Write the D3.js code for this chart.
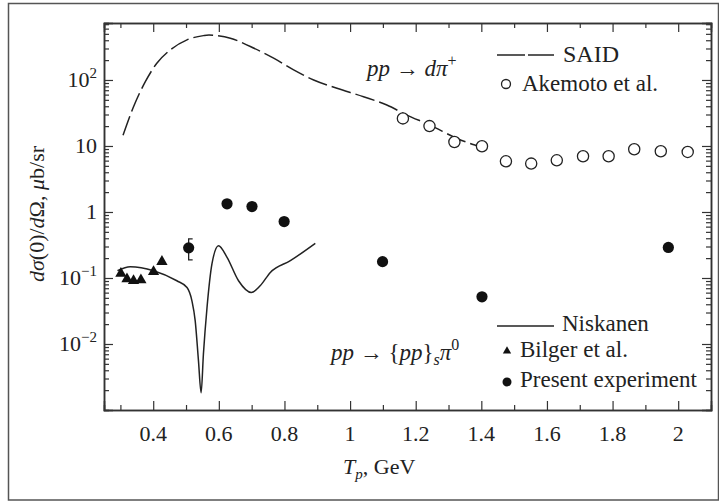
<!DOCTYPE html>
<html>
<head>
<meta charset="utf-8">
<script src="https://cdn.jsdelivr.net/npm/d3@7/dist/d3.min.js"></script>
<style>
  body { margin: 0; background: #fff; }
  svg text { font-family: "Liberation Serif", "Times New Roman", "DejaVu Serif", serif; fill: #222; }
</style>
</head>
<body>
<svg id="chart" width="719" height="504"></svg>
<script>
//x axis ticks
var xMajor = [0.4, 0.6, 0.8, 1.0, 1.2, 1.4, 1.6, 1.8, 2.0];
var xLabels = ["0.4", "0.6", "0.8", "1", "1.2", "1.4", "1.6", "1.8", "2"];
var xMinor = [0.3, 0.5, 0.7, 0.9, 1.1, 1.3, 1.5, 1.7, 1.9];
//y axis ticks (exponents of the labelled decades)
var yMajor = [0.01, 0.1, 1, 10, 100];
var yExp = ["\u22122", "\u22121", "", "", "2"];
var yBase = ["10", "10", "1", "10", "10"];

//SAID curve (pp -> d pi+)
var saidT = [0.308, 0.34, 0.376, 0.411, 0.452, 0.503, 0.553, 0.57, 0.594, 0.635, 0.696, 0.767, 0.828, 0.889, 0.96, 1.041, 1.112, 1.173, 1.244, 1.326, 1.4];
var saidV = [14.6, 39.3, 94.2, 179.5, 286, 406, 470, 480, 470, 430, 321, 214, 142, 100, 74.8, 55.7, 41.7, 29.4, 20.7, 13.0, 9.6];
//Akemoto et al.
var akeT = [1.161, 1.242, 1.318, 1.402, 1.475, 1.552, 1.630, 1.710, 1.788, 1.866, 1.947, 2.029];
var akeV = [26.2, 20.0, 11.5, 9.9, 5.86, 5.41, 6.07, 6.98, 6.98, 8.93, 8.32, 8.12];
//Niskanen curve (pp -> {pp}s pi0)
var nisT = [0.291, 0.330, 0.401, 0.472, 0.503, 0.518, 0.528, 0.538, 0.546, 0.553, 0.564, 0.579, 0.599, 0.625, 0.660, 0.699, 0.726, 0.757, 0.818, 0.894];
var nisV = [0.129, 0.148, 0.129, 0.0908, 0.0718, 0.0451, 0.0224, 0.00551, 0.00182, 0.00705, 0.0357, 0.163, 0.309, 0.2055, 0.0908, 0.0603, 0.0762, 0.1214, 0.183, 0.335];
//Bilger et al.
var bilT = [0.3015, 0.320, 0.340, 0.3625, 0.401, 0.4265];
var bilV = [0.117, 0.0964, 0.0908, 0.093, 0.1245, 0.177];
//Present experiment
var preT = [0.508, 0.625, 0.701, 0.799, 1.099, 1.402, 1.970];
var preV = [0.286, 1.33, 1.21, 0.717, 0.177, 0.0519, 0.29];
//error bar on the 0.5 GeV point
var errT = [0.508];
var errLo = [0.1875];
var errHi = [0.391];

var svg = d3.select("#chart");
var pLeft = 104, pRight = 711, pTop = 23, pBottom = 410;

// -- outer frame
svg.append("rect")
  .attr("x", 8.5).attr("y", 3.5)
  .attr("width", 710).attr("height", 496.5)
  .attr("fill", "none").attr("stroke", "#555").attr("stroke-width", 1.5);

var x = d3.scaleLinear().domain([0.25, 2.1]).range([pLeft, pRight]);
var y = d3.scaleLog().domain([0.001, 730]).range([pBottom, pTop]);

// -- log minor ticks
var yMinor = [];
[0.001, 0.01, 0.1, 1, 10, 100].forEach(function(b) {
  for (var k = 2; k <= 9; k++) {
    if (b * k <= 730) yMinor.push(b * k);
  }
});

// -- axes, ticks pointing inward
function axes(axis, vals, size, tr) {
  var g = svg.append("g")
    .attr("transform", tr)
    .call(axis.tickValues(vals).tickSize(size).tickFormat(""));
  g.selectAll("text").remove();
  g.select(".domain").attr("stroke", "#333").attr("stroke-width", 1.5);
  g.selectAll(".tick line").attr("stroke", "#333").attr("stroke-width", 1.2);
}
axes(d3.axisBottom(x), xMajor, -9, "translate(0," + pBottom + ")");
axes(d3.axisBottom(x), xMinor, -5, "translate(0," + pBottom + ")");
axes(d3.axisTop(x), xMajor, -9, "translate(0," + pTop + ")");
axes(d3.axisTop(x), xMinor, -5, "translate(0," + pTop + ")");
axes(d3.axisLeft(y), yMajor, -9, "translate(" + pLeft + ",0)");
axes(d3.axisLeft(y), yMinor, -5, "translate(" + pLeft + ",0)");
axes(d3.axisRight(y), yMajor, -9, "translate(" + pRight + ",0)");
axes(d3.axisRight(y), yMinor, -5, "translate(" + pRight + ",0)");

// -- x tick labels
svg.selectAll(".xlab")
  .data(xMajor)
  .enter()
  .append("text")
  .attr("x", function(d) { return x(d); })
  .attr("y", 441)
  .attr("text-anchor", "middle")
  .attr("font-size", 22)
  .text(function(d, i) { return xLabels[i]; });

// -- y tick labels
yMajor.forEach(function(v, i) {
  var t = svg.append("text")
    .attr("x", 97)
    .attr("y", y(v) + 7)
    .attr("text-anchor", "end")
    .attr("font-size", 22);
  t.append("tspan").text(yBase[i]);
  if (yExp[i] !== "") {
    t.append("tspan").attr("font-size", 15).attr("dy", -9).text(yExp[i]);
  }
});

// -- axis titles
var xt = svg.append("text").attr("x", 343).attr("y", 474).attr("font-size", 22);
xt.append("tspan").attr("font-style", "italic").text("T");
xt.append("tspan").attr("font-style", "italic").attr("font-size", 15).attr("dy", 5).text("p");
xt.append("tspan").attr("dy", -5).text(", GeV");

var yt = svg.append("text")
  .attr("transform", "translate(44,214) rotate(-90)")
  .attr("text-anchor", "middle")
  .attr("font-size", 22);
yt.append("tspan").attr("font-style", "italic").text("d\u03c3");
yt.append("tspan").text("(0)/");
yt.append("tspan").attr("font-style", "italic").text("d");
yt.append("tspan").text("\u03a9, ");
yt.append("tspan").attr("font-style", "italic").text("\u03bc");
yt.append("tspan").text("b/sr");

// -- SAID dashed curve
var line = d3.line()
  .x(function(d) { return x(d[0]); })
  .y(function(d) { return y(d[1]); })
  .curve(d3.curveMonotoneX);
svg.append("path")
  .datum(d3.zip(saidT, saidV))
  .attr("d", line)
  .attr("fill", "none").attr("stroke", "#222").attr("stroke-width", 1.5)
  .attr("stroke-dasharray", "20,5");

// -- Niskanen solid curve
svg.append("path")
  .datum(d3.zip(nisT, nisV))
  .attr("d", line)
  .attr("fill", "none").attr("stroke", "#222").attr("stroke-width", 1.5);

// -- Akemoto open circles
svg.selectAll(".ake")
  .data(d3.zip(akeT, akeV))
  .enter()
  .append("circle")
  .attr("cx", function(d) { return x(d[0]); })
  .attr("cy", function(d) { return y(d[1]); })
  .attr("r", 5.6)
  .attr("fill", "#fff").attr("stroke", "#222").attr("stroke-width", 1.3);

// -- Bilger triangles
svg.selectAll(".bil")
  .data(d3.zip(bilT, bilV))
  .enter()
  .append("path")
  .attr("d", d3.symbol(d3.symbolTriangle, 55))
  .attr("transform", function(d) { return "translate(" + x(d[0]) + "," + y(d[1]) + ")"; })
  .attr("fill", "#111");

// -- error bar
errT.forEach(function(t, i) {
  var cx = x(t);
  svg.append("path")
    .attr("d", "M" + (cx + 4) + "," + y(errHi[i]) + "H" + cx + "V" + y(errLo[i]) + "H" + (cx + 4))
    .attr("fill", "none").attr("stroke", "#222").attr("stroke-width", 1.3);
});

// -- present experiment filled circles
svg.selectAll(".pre")
  .data(d3.zip(preT, preV))
  .enter()
  .append("circle")
  .attr("cx", function(d) { return x(d[0]); })
  .attr("cy", function(d) { return y(d[1]); })
  .attr("r", 5.6)
  .attr("fill", "#111");

// -- reaction labels
var r1 = svg.append("text").attr("x", 367).attr("y", 76).attr("font-size", 23);
r1.append("tspan").attr("font-style", "italic").text("pp");
r1.append("tspan").text(" \u2192 ");
r1.append("tspan").attr("font-style", "italic").text("d\u03c0");
r1.append("tspan").attr("font-size", 16).attr("dy", -10).text("+");

var r2 = svg.append("text").attr("x", 331).attr("y", 360).attr("font-size", 23);
r2.append("tspan").attr("font-style", "italic").text("pp");
r2.append("tspan").text(" \u2192 {");
r2.append("tspan").attr("font-style", "italic").text("pp");
r2.append("tspan").text("}");
r2.append("tspan").attr("font-style", "italic").attr("font-size", 16).attr("dy", 5).text("s");
r2.append("tspan").attr("font-style", "italic").attr("dy", -5).text("\u03c0");
r2.append("tspan").attr("font-size", 16).attr("dy", -10).text("0");

// -- legends
svg.append("line").attr("x1", 497).attr("x2", 525).attr("y1", 55).attr("y2", 55)
  .attr("stroke", "#222").attr("stroke-width", 1.5);
svg.append("line").attr("x1", 528).attr("x2", 554).attr("y1", 55).attr("y2", 55)
  .attr("stroke", "#222").attr("stroke-width", 1.5);
svg.append("text").attr("x", 563).attr("y", 62).attr("font-size", 24).text("SAID");
svg.append("circle").attr("cx", 506).attr("cy", 84).attr("r", 4.5)
  .attr("fill", "#fff").attr("stroke", "#222").attr("stroke-width", 1.3);
svg.append("text").attr("x", 522).attr("y", 91).attr("font-size", 23).text("Akemoto et al.");

svg.append("line").attr("x1", 497).attr("x2", 554).attr("y1", 326).attr("y2", 326)
  .attr("stroke", "#222").attr("stroke-width", 1.5);
svg.append("text").attr("x", 562).attr("y", 331).attr("font-size", 23).text("Niskanen");
svg.append("path").attr("d", d3.symbol(d3.symbolTriangle, 30))
  .attr("transform", "translate(507,351)").attr("fill", "#111");
svg.append("text").attr("x", 520).attr("y", 357).attr("font-size", 23).text("Bilger et al.");
svg.append("circle").attr("cx", 507).attr("cy", 382).attr("r", 4.5).attr("fill", "#111");
svg.append("text").attr("x", 520).attr("y", 387).attr("font-size", 23).text("Present experiment");
</script>
</body>
</html>
